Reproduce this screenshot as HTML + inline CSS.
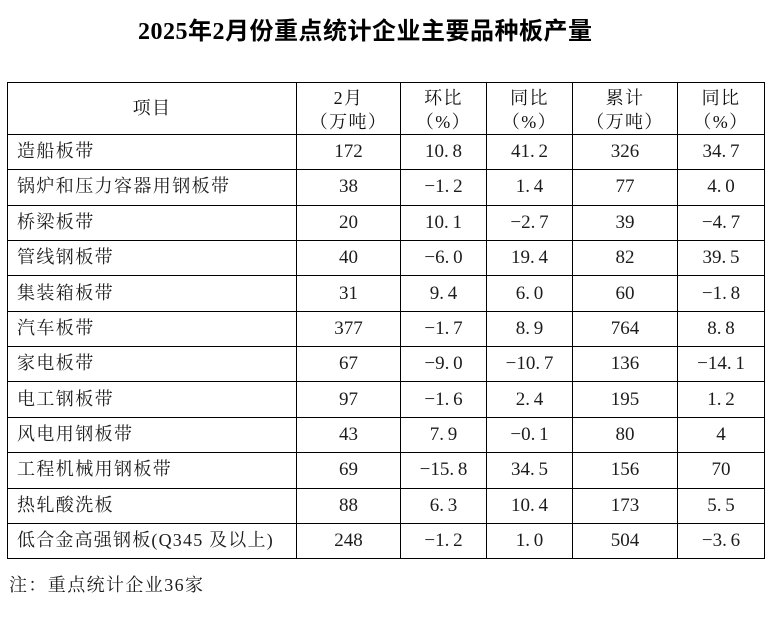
<!DOCTYPE html>
<html><head><meta charset="utf-8">
<style>
html,body{margin:0;padding:0;background:#fff;}
#c{position:relative;width:775px;height:617px;overflow:hidden;background:#fff;}
.t{position:absolute;left:138px;top:16px;height:32px;line-height:32px;font-family:"Liberation Serif","Noto Sans CJK SC",sans-serif;font-weight:bold;font-size:24px;letter-spacing:0.5px;color:#000;white-space:nowrap;}
.h{position:absolute;left:7px;height:1px;width:758px;background:#000;}
.v{position:absolute;top:82px;height:477px;width:1px;background:#000;}
.cell{position:absolute;text-align:center;white-space:nowrap;color:#1c1c1c;font-family:"Liberation Serif","Noto Serif CJK SC",serif;font-size:19px;}
.lab{position:absolute;left:17px;white-space:nowrap;color:#1c1c1c;font-family:"Liberation Serif","Noto Serif CJK SC",serif;font-size:18px;letter-spacing:1.4px;}
.hd{position:absolute;text-align:center;white-space:nowrap;color:#111;font-family:"Liberation Serif","Noto Serif CJK SC",serif;font-size:18px;letter-spacing:1.4px;line-height:24px;}
.note{position:absolute;left:9px;top:572px;line-height:26px;font-family:"Liberation Serif","Noto Serif CJK SC",serif;font-size:18px;letter-spacing:1.4px;color:#1c1c1c;white-space:nowrap;}
</style></head><body>
<div id="c">
<div class="t">2025年2月份重点统计企业主要品种板产量</div>

<!-- horizontal lines -->
<div class="h" style="top:82px"></div>
<div class="h" style="top:134px"></div>
<div class="h" style="top:169px"></div>
<div class="h" style="top:205px"></div>
<div class="h" style="top:240px"></div>
<div class="h" style="top:275px"></div>
<div class="h" style="top:311px"></div>
<div class="h" style="top:346px"></div>
<div class="h" style="top:381px"></div>
<div class="h" style="top:417px"></div>
<div class="h" style="top:452px"></div>
<div class="h" style="top:488px"></div>
<div class="h" style="top:523px"></div>
<div class="h" style="top:558px"></div>
<!-- vertical lines -->
<div class="v" style="left:7px"></div>
<div class="v" style="left:296px"></div>
<div class="v" style="left:400px"></div>
<div class="v" style="left:486px"></div>
<div class="v" style="left:572px"></div>
<div class="v" style="left:677px"></div>
<div class="v" style="left:764px"></div>

<!-- header -->
<div class="hd" style="left:7px;width:290px;top:96px">项目</div>
<div class="hd" style="left:297px;width:103px;top:86px">2月<br>（万吨）</div>
<div class="hd" style="left:401px;width:85px;top:86px">环比<br>（%）</div>
<div class="hd" style="left:487px;width:85px;top:86px">同比<br>（%）</div>
<div class="hd" style="left:573px;width:104px;top:86px">累计<br>（万吨）</div>
<div class="hd" style="left:678px;width:86px;top:86px">同比<br>（%）</div>

<!-- rows -->
<div style="position:absolute;left:0;top:134px;width:775px;height:35px;line-height:35px;">
<div class="lab" style="top:0">造船板带</div>
<div class="cell" style="left:297px;width:103px">172</div>
<div class="cell" style="left:401px;width:85px">10.&#8201;8</div>
<div class="cell" style="left:487px;width:85px">41.&#8201;2</div>
<div class="cell" style="left:573px;width:104px">326</div>
<div class="cell" style="left:678px;width:86px">34.&#8201;7</div>
</div>

<div style="position:absolute;left:0;top:169.4px;width:775px;height:35px;line-height:35px;">
<div class="lab" style="top:0">锅炉和压力容器用钢板带</div>
<div class="cell" style="left:297px;width:103px">38</div>
<div class="cell" style="left:401px;width:85px">&#8722;1.&#8201;2</div>
<div class="cell" style="left:487px;width:85px">1.&#8201;4</div>
<div class="cell" style="left:573px;width:104px">77</div>
<div class="cell" style="left:678px;width:86px">4.&#8201;0</div>
</div>

<div style="position:absolute;left:0;top:204.8px;width:775px;height:35px;line-height:35px;">
<div class="lab" style="top:0">桥梁板带</div>
<div class="cell" style="left:297px;width:103px">20</div>
<div class="cell" style="left:401px;width:85px">10.&#8201;1</div>
<div class="cell" style="left:487px;width:85px">&#8722;2.&#8201;7</div>
<div class="cell" style="left:573px;width:104px">39</div>
<div class="cell" style="left:678px;width:86px">&#8722;4.&#8201;7</div>
</div>

<div style="position:absolute;left:0;top:240.1px;width:775px;height:35px;line-height:35px;">
<div class="lab" style="top:0">管线钢板带</div>
<div class="cell" style="left:297px;width:103px">40</div>
<div class="cell" style="left:401px;width:85px">&#8722;6.&#8201;0</div>
<div class="cell" style="left:487px;width:85px">19.&#8201;4</div>
<div class="cell" style="left:573px;width:104px">82</div>
<div class="cell" style="left:678px;width:86px">39.&#8201;5</div>
</div>

<div style="position:absolute;left:0;top:275.5px;width:775px;height:35px;line-height:35px;">
<div class="lab" style="top:0">集装箱板带</div>
<div class="cell" style="left:297px;width:103px">31</div>
<div class="cell" style="left:401px;width:85px">9.&#8201;4</div>
<div class="cell" style="left:487px;width:85px">6.&#8201;0</div>
<div class="cell" style="left:573px;width:104px">60</div>
<div class="cell" style="left:678px;width:86px">&#8722;1.&#8201;8</div>
</div>

<div style="position:absolute;left:0;top:310.9px;width:775px;height:35px;line-height:35px;">
<div class="lab" style="top:0">汽车板带</div>
<div class="cell" style="left:297px;width:103px">377</div>
<div class="cell" style="left:401px;width:85px">&#8722;1.&#8201;7</div>
<div class="cell" style="left:487px;width:85px">8.&#8201;9</div>
<div class="cell" style="left:573px;width:104px">764</div>
<div class="cell" style="left:678px;width:86px">8.&#8201;8</div>
</div>

<div style="position:absolute;left:0;top:346.2px;width:775px;height:35px;line-height:35px;">
<div class="lab" style="top:0">家电板带</div>
<div class="cell" style="left:297px;width:103px">67</div>
<div class="cell" style="left:401px;width:85px">&#8722;9.&#8201;0</div>
<div class="cell" style="left:487px;width:85px">&#8722;10.&#8201;7</div>
<div class="cell" style="left:573px;width:104px">136</div>
<div class="cell" style="left:678px;width:86px">&#8722;14.&#8201;1</div>
</div>

<div style="position:absolute;left:0;top:381.6px;width:775px;height:35px;line-height:35px;">
<div class="lab" style="top:0">电工钢板带</div>
<div class="cell" style="left:297px;width:103px">97</div>
<div class="cell" style="left:401px;width:85px">&#8722;1.&#8201;6</div>
<div class="cell" style="left:487px;width:85px">2.&#8201;4</div>
<div class="cell" style="left:573px;width:104px">195</div>
<div class="cell" style="left:678px;width:86px">1.&#8201;2</div>
</div>

<div style="position:absolute;left:0;top:417px;width:775px;height:35px;line-height:35px;">
<div class="lab" style="top:0">风电用钢板带</div>
<div class="cell" style="left:297px;width:103px">43</div>
<div class="cell" style="left:401px;width:85px">7.&#8201;9</div>
<div class="cell" style="left:487px;width:85px">&#8722;0.&#8201;1</div>
<div class="cell" style="left:573px;width:104px">80</div>
<div class="cell" style="left:678px;width:86px">4</div>
</div>

<div style="position:absolute;left:0;top:452.4px;width:775px;height:35px;line-height:35px;">
<div class="lab" style="top:0">工程机械用钢板带</div>
<div class="cell" style="left:297px;width:103px">69</div>
<div class="cell" style="left:401px;width:85px">&#8722;15.&#8201;8</div>
<div class="cell" style="left:487px;width:85px">34.&#8201;5</div>
<div class="cell" style="left:573px;width:104px">156</div>
<div class="cell" style="left:678px;width:86px">70</div>
</div>

<div style="position:absolute;left:0;top:487.8px;width:775px;height:35px;line-height:35px;">
<div class="lab" style="top:0">热轧酸洗板</div>
<div class="cell" style="left:297px;width:103px">88</div>
<div class="cell" style="left:401px;width:85px">6.&#8201;3</div>
<div class="cell" style="left:487px;width:85px">10.&#8201;4</div>
<div class="cell" style="left:573px;width:104px">173</div>
<div class="cell" style="left:678px;width:86px">5.&#8201;5</div>
</div>

<div style="position:absolute;left:0;top:523.1px;width:775px;height:35px;line-height:35px;">
<div class="lab" style="top:0;letter-spacing:1.2px">低合金高强钢板(Q345 及以上)</div>
<div class="cell" style="left:297px;width:103px">248</div>
<div class="cell" style="left:401px;width:85px">&#8722;1.&#8201;2</div>
<div class="cell" style="left:487px;width:85px">1.&#8201;0</div>
<div class="cell" style="left:573px;width:104px">504</div>
<div class="cell" style="left:678px;width:86px">&#8722;3.&#8201;6</div>
</div>

<div class="note">注：重点统计企业36家</div>
</div>
</body></html>
